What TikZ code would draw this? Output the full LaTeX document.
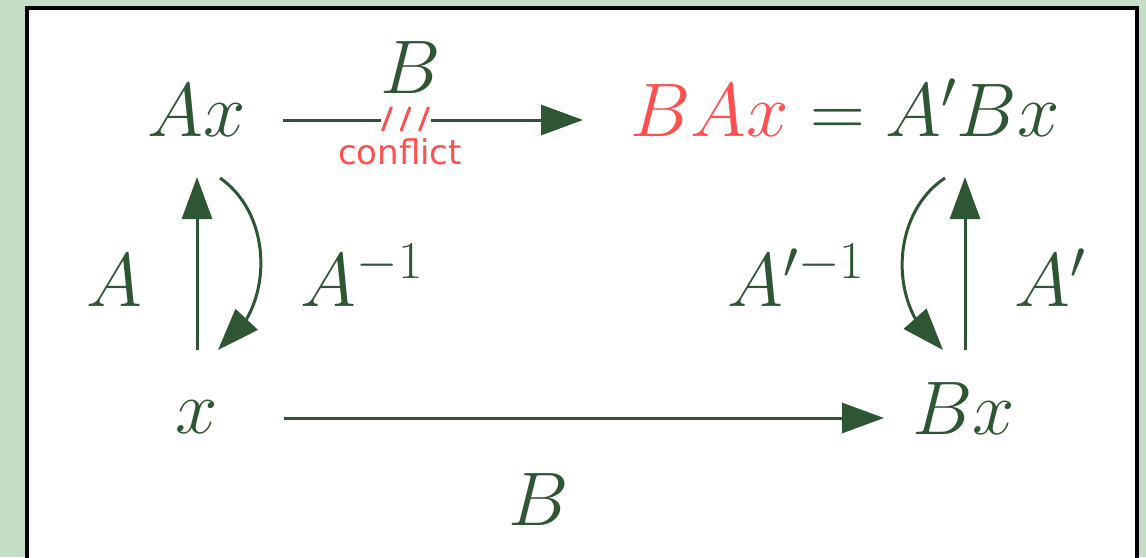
\documentclass[tikz,border=0pt]{standalone}
\usepackage{fix-cm}
\usepackage{fontspec}
\newfontfamily\conflictfont{DejaVu Sans}
\usetikzlibrary{arrows.meta,bending}
\definecolor{bggreen}{HTML}{C4DEC7}
\definecolor{dkgreen}{HTML}{2E5534}
\definecolor{conred}{HTML}{FF5050}
\begin{document}
\begin{tikzpicture}[x=1pt,y=-1pt,
  lab/.style={anchor=base,inner sep=0pt,text=dkgreen,font=\fontsize{76}{90}\selectfont},
  arr/.style={draw=dkgreen,line width=3pt,-{Triangle[length=42pt,width=30pt]}},
  hash/.style={draw=conred,line width=3pt},
  ]
\useasboundingbox (0,0) rectangle (1146,557);
\fill[bggreen] (0,0) rectangle (1146,557);
\fill[white] (27,8) rectangle (1137,570);
\draw[black,line width=3.5pt] (27,570) -- (27,8) -- (1137,8) -- (1137,570);

% main nodes
\node[lab] (nAx) at (197,136) {$Ax$};
\node[lab] (nBAx) at (845,136) {$\textcolor{conred}{BAx} = A'Bx$};
\node[lab] (nx) at (197,433) {$x$};
\node[lab] (nBx) at (964,434) {$Bx$};

% labels
\node[lab] (lBtop) at (411,93) {$B$};
\node[lab] (lA) at (114,306) {$A$};
\node[lab] (lAinv) at (362,306) {$A^{-1}$};
\node[lab] (lApinv) at (796,306) {$A'^{-1}$};
\node[lab] (lAp) at (1050,306) {$A'$};
\node[lab] (lBbot) at (539,525) {$B$};
\node[anchor=base,inner sep=0pt,text=conred,font=\conflictfont\fontsize{34}{40}\selectfont] (conf) at (400,164) {conflict};

% connectors
\draw[arr] ([shift={(86pt,16pt)}]nAx.base) -- ([shift={(-262pt,16pt)}]nBAx.base);
\draw[arr] ([shift={(87pt,15pt)}]nx.base) -- ([shift={(-80pt,16pt)}]nBx.base);
\draw[arr] ([shift={(0pt,83pt)}]nx.base) -- ([shift={(0pt,-41pt)}]nAx.base);
\draw[arr] ([shift={(23pt,-42pt)}]nAx.base) to[bend left=56] ([shift={(21pt,83pt)}]nx.base);
\draw[arr] ([shift={(1pt,84pt)}]nBx.base) -- ([shift={(120pt,-41pt)}]nBAx.base);
\draw[arr] ([shift={(100pt,-42pt)}]nBAx.base) to[bend right=56] ([shift={(-21pt,84pt)}]nBx.base);

% conflict marks
\fill[white] (381,116) rectangle (431,124);
\foreach \cx in {387,405.5,424} \draw[hash] (\cx-4.5,131) -- (\cx+4.5,107);
\end{tikzpicture}
\end{document}
